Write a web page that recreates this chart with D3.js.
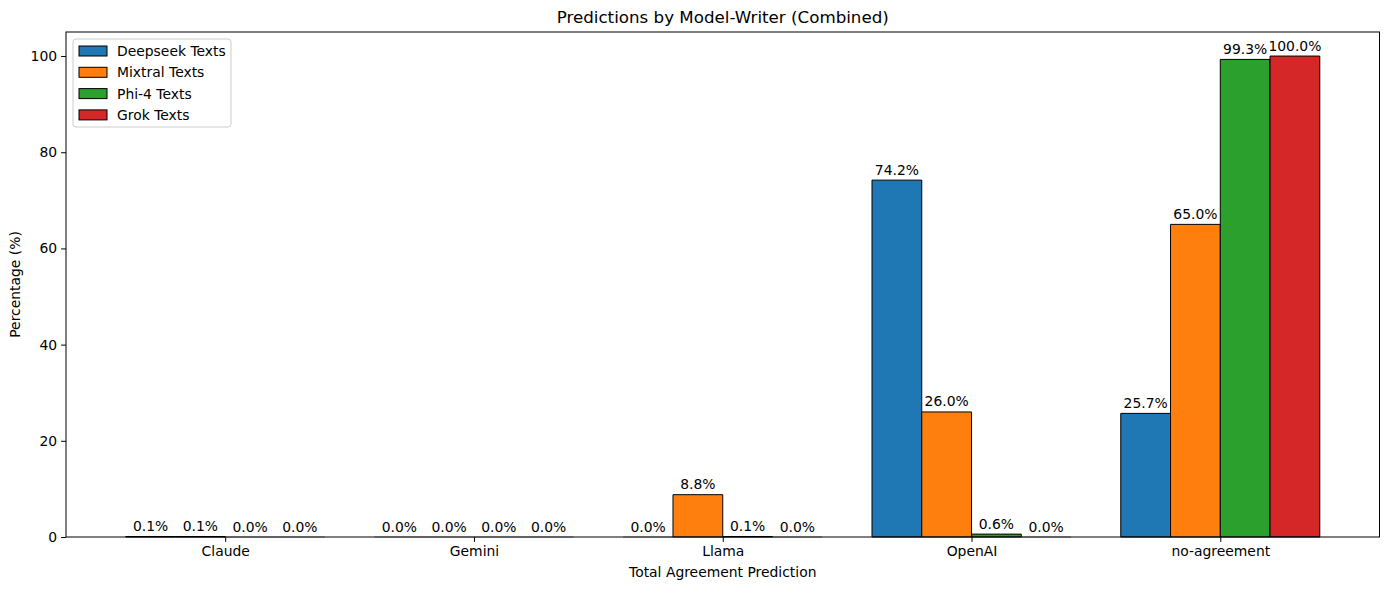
<!DOCTYPE html>
<html>
<head>
<meta charset="utf-8">
<script src="https://cdn.jsdelivr.net/npm/d3@7"></script>
<style>
  body { margin: 0; background: #fff; }
  svg { font-family: "DejaVu Sans", sans-serif; }
</style>
</head>
<body>
<div id="chart"></div>
<script>
var categories = ["Claude", "Gemini", "Llama", "OpenAI", "no-agreement"];
var seriesNames = ["Deepseek Texts", "Mixtral Texts", "Phi-4 Texts", "Grok Texts"];
var seriesColors = ["#1f77b4", "#ff7f0e", "#2ca02c", "#d62728"];
var deepseekValues = [0.1, 0.0, 0.0, 74.2, 25.7];
var mixtralValues = [0.1, 0.0, 8.8, 26.0, 65.0];
var phi4Values = [0.0, 0.0, 0.1, 0.6, 99.3];
var grokValues = [0.0, 0.0, 0.0, 0.0, 100.0];
var yTicks = [0, 20, 40, 60, 80, 100];

var width = 1389, height = 590;
var margin = {left: 66, right: 9.5, top: 32, bottom: 53};
var barW = 0.2;
var fs = "13.9px";

var svg = d3.select("#chart")
    .append("svg")
    .attr("width", width)
    .attr("height", height);

var allSeries = [deepseekValues, mixtralValues, phi4Values, grokValues];

// flatten into bar records
var bars = [];
allSeries.forEach(function (vals, j) {
    vals.forEach(function (v, i) {
        bars.push({cat: i, series: j, value: v, pos: i + (j - 1.5) * barW});
    });
});

var x = d3.scaleLinear()
    .domain([-0.64, 4.64])
    .range([margin.left, width - margin.right]);

var y = d3.scaleLinear()
    .domain([0, 105])
    .range([height - margin.bottom, margin.top]);

// bars as paths so zero-height ones still show their edge
svg.selectAll(".bar")
    .data(bars)
    .enter().append("path")
    .attr("class", "bar")
    .attr("d", function (d) {
        var x0 = x(d.pos - barW / 2), x1 = x(d.pos + barW / 2);
        var y0 = y(0), y1 = y(d.value);
        return "M" + x0 + "," + y0 + "L" + x0 + "," + y1 + "L" + x1 + "," + y1 + "L" + x1 + "," + y0 + "Z";
    })
    .attr("fill", function (d) { return seriesColors[d.series]; })
    .attr("stroke", "#000")
    .attr("stroke-opacity", function (d) { return d.value === 0 ? 0.25 : 1; })
    .attr("stroke-width", 1);

// value labels
svg.selectAll(".lbl")
    .data(bars)
    .enter().append("text")
    .attr("class", "lbl")
    .attr("x", function (d) { return x(d.pos); })
    .attr("y", function (d) { return y(d.value) - 5.5; })
    .attr("text-anchor", "middle")
    .attr("font-size", fs)
    .text(function (d) { return d.value.toFixed(1) + "%"; });

// axes
var xAxis = d3.axisBottom(x)
    .tickValues(d3.range(categories.length))
    .tickFormat(function (i) { return categories[i]; })
    .tickSize(4.9)
    .tickPadding(4);

var yAxis = d3.axisLeft(y)
    .tickValues(yTicks)
    .tickSize(4.9)
    .tickPadding(4);

var gx = svg.append("g")
    .attr("transform", "translate(0," + (height - margin.bottom) + ")")
    .call(xAxis);
var gy = svg.append("g")
    .attr("transform", "translate(" + margin.left + ",0)")
    .call(yAxis);

[gx, gy].forEach(function (g) {
    g.select(".domain").remove();
    g.selectAll("text").attr("font-size", fs).attr("fill", "#000").attr("font-family", "DejaVu Sans, sans-serif");
    g.selectAll("line").attr("stroke", "#000");
});

// frame
svg.append("rect")
    .attr("x", margin.left)
    .attr("y", margin.top)
    .attr("width", width - margin.left - margin.right)
    .attr("height", height - margin.top - margin.bottom)
    .attr("fill", "none")
    .attr("stroke", "#000")
    .attr("stroke-width", 1);

// titles
svg.append("text")
    .attr("x", (margin.left + width - margin.right) / 2)
    .attr("y", 23)
    .attr("text-anchor", "middle")
    .attr("font-size", "16.7px")
    .text("Predictions by Model-Writer (Combined)");

svg.append("text")
    .attr("x", (margin.left + width - margin.right) / 2)
    .attr("y", 577)
    .attr("text-anchor", "middle")
    .attr("font-size", fs)
    .text("Total Agreement Prediction");

svg.append("text")
    .attr("transform", "translate(20," + ((margin.top + height - margin.bottom) / 2) + ") rotate(-90)")
    .attr("text-anchor", "middle")
    .attr("font-size", fs)
    .text("Percentage (%)");

// legend
var legend = svg.append("g").attr("transform", "translate(73,39)");
legend.append("rect")
    .attr("width", 158)
    .attr("height", 88)
    .attr("rx", 3)
    .attr("fill", "#fff")
    .attr("fill-opacity", 0.8)
    .attr("stroke", "#ccc");

var items = legend.selectAll(".item")
    .data(seriesNames)
    .enter().append("g")
    .attr("transform", function (d, i) { return "translate(6," + (7 + i * 21.3) + ")"; });

items.append("rect")
    .attr("width", 28)
    .attr("height", 10)
    .attr("fill", function (d, i) { return seriesColors[i]; })
    .attr("stroke", "#000");

items.append("text")
    .attr("x", 38)
    .attr("y", 10)
    .attr("font-size", fs)
    .text(function (d) { return d; });
</script>
</body>
</html>
